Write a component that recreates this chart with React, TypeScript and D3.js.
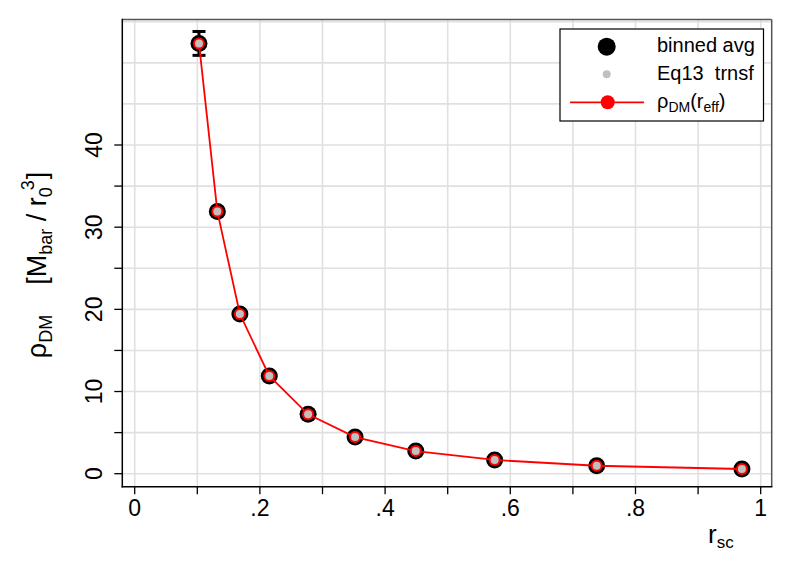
import React from "react";
import * as d3 from "d3";

const rsc = [0.1027, 0.132, 0.168, 0.215, 0.277, 0.352, 0.449, 0.575, 0.738, 0.970];
const rho = [52.36, 31.92, 19.43, 11.89, 7.23, 4.46, 2.76, 1.67, 0.97, 0.57];
const rhoErr = [1.45, 0.4, 0.25, 0.15, 0.1, 0.06, 0.04, 0.03, 0.02, 0.01];
const xTicksMajor = [0, 0.2, 0.4, 0.6, 0.8, 1];
const xTickLabels = ["0", ".2", ".4", ".6", ".8", "1"];
const xTicksMinor = [0.1, 0.3, 0.5, 0.7, 0.9];
const xGrid = [0, 0.1, 0.2, 0.3, 0.4, 0.5, 0.6, 0.7, 0.8, 0.9, 1];
const yTicksMajor = [0, 10, 20, 30, 40];
const yTicksMinor = [5, 15, 25, 35];
const yGrid = [0, 5, 10, 15, 20, 25, 30, 35, 40, 45, 50, 55];
const legendLabels = ["binned avg", "Eq13  trnsf"];

const FONT = "'Liberation Sans', Arial, Helvetica, sans-serif";

export default function App() {
  const W = 793, H = 577;
  const left = 122.3, right = 771.7, top = 19.5, bottom = 486.7;
  const x = d3.scaleLinear().domain([0, 1]).range([134.7, 760.7]);
  const y = d3.scaleLinear().domain([0, 40]).range([473.7, 145]);
  const line = d3.line<number>().x((d, i) => x(rsc[i])).y((d) => y(d));
  const pathD = line(rho) || "";

  return (
    <svg width={W} height={H} style={{ position: "absolute", left: 0, top: 0, background: "#fff" }} fontFamily={FONT}>
      <rect x={0} y={0} width={W} height={H} fill="#fff" />
      {/* grid */}
      {xGrid.map((g) => (
        <line key={"xg" + g} x1={x(g)} x2={x(g)} y1={top} y2={bottom} stroke="#e0e0e0" strokeWidth={1.6} />
      ))}
      {yGrid.map((g) => (
        <line key={"yg" + g} x1={left} x2={right} y1={y(g)} y2={y(g)} stroke="#e0e0e0" strokeWidth={1.6} />
      ))}
      {/* frame */}
      <line x1={left} x2={right} y1={top} y2={top} stroke="#555" strokeWidth={1.5} />
      <line x1={right} x2={right} y1={top} y2={bottom} stroke="#555" strokeWidth={1.5} />
      <line x1={left} x2={left} y1={top - 0.7} y2={bottom + 0.7} stroke="#000" strokeWidth={1.5} />
      <line x1={left - 0.7} x2={right + 0.7} y1={bottom} y2={bottom} stroke="#000" strokeWidth={1.5} />
      {/* x ticks */}
      {[...xTicksMajor, ...xTicksMinor].map((t) => (
        <line key={"xt" + t} x1={x(t)} x2={x(t)} y1={bottom} y2={bottom + 7.5} stroke="#000" strokeWidth={1.3} />
      ))}
      {xTicksMajor.map((t, i) => (
        <text key={"xl" + t} x={x(t)} y={515.5} fontSize={23} textAnchor="middle" fill="#000">{xTickLabels[i]}</text>
      ))}
      {/* y ticks */}
      {[...yTicksMajor, ...yTicksMinor].map((t) => (
        <line key={"yt" + t} x1={left - 8} x2={left} y1={y(t)} y2={y(t)} stroke="#000" strokeWidth={1.3} />
      ))}
      {yTicksMajor.map((t) => (
        <text key={"yl" + t} transform={`translate(102,${y(t)}) rotate(-90)`} fontSize={23} textAnchor="middle" fill="#000">{String(t)}</text>
      ))}
      {/* axis titles */}
      <text x={708} y={543} fontSize={26} fill="#000">
        r<tspan fontSize={17} dy={5}>sc</tspan>
      </text>
      <text transform="translate(46,265) rotate(-90)" fontSize={27} textAnchor="middle" fill="#000">
        ρ<tspan fontSize={18} dy={6}>DM</tspan>
        <tspan dy={-6}>{"\u00a0\u00a0\u00a0\u00a0[M"}</tspan>
        <tspan fontSize={18} dy={6}>bar</tspan>
        <tspan dy={-6}>{"\u00a0/\u00a0r"}</tspan>
        <tspan fontSize={18} dy={6}>0</tspan>
        <tspan fontSize={18} dy={-18} dx={-3}>3</tspan>
        <tspan dy={12} dx={1}>]</tspan>
      </text>
      {/* error bars */}
      {rsc.map((r, i) => (
        <g key={"eb" + i}>
          <line x1={x(r)} x2={x(r)} y1={y(rho[i] - rhoErr[i])} y2={y(rho[i] + rhoErr[i])} stroke="#000" strokeWidth={3} />
          <line x1={x(r) - 6.5} x2={x(r) + 6.5} y1={y(rho[i] - rhoErr[i])} y2={y(rho[i] - rhoErr[i])} stroke="#000" strokeWidth={3} />
          <line x1={x(r) - 6.5} x2={x(r) + 6.5} y1={y(rho[i] + rhoErr[i])} y2={y(rho[i] + rhoErr[i])} stroke="#000" strokeWidth={3} />
        </g>
      ))}
      {/* binned avg */}
      {rsc.map((r, i) => (
        <circle key={"b" + i} cx={x(r)} cy={y(rho[i])} r={8.5} fill="#000" />
      ))}
      {/* line */}
      <path d={pathD} fill="none" stroke="#ff0000" strokeWidth={1.8} />
      {rsc.map((r, i) => (
        <circle key={"rd" + i} cx={x(r)} cy={y(rho[i])} r={6} fill="#ff0000" />
      ))}
      {rsc.map((r, i) => (
        <circle key={"g" + i} cx={x(r)} cy={y(rho[i])} r={4} fill="#c0c0c0" />
      ))}
      {/* legend */}
      <rect x={560} y={29} width={203.5} height={92} fill="#fff" stroke="#000" strokeWidth={1.2} />
      <circle cx={606.7} cy={46.7} r={9} fill="#000" />
      <circle cx={606.7} cy={74.3} r={4} fill="#c0c0c0" />
      <line x1={570} x2={644} y1={102.3} y2={102.3} stroke="#ff0000" strokeWidth={1.8} />
      <circle cx={607.7} cy={102.3} r={7} fill="#ff0000" />
      <text x={657} y={52} fontSize={20} fill="#000">{legendLabels[0]}</text>
      <text x={657} y={80} fontSize={20} fill="#000" style={{ whiteSpace: "pre" }}>{legendLabels[1]}</text>
      <text x={657} y={108} fontSize={20} fill="#000">
        ρ<tspan fontSize={14} dy={4}>DM</tspan>
        <tspan dy={-4}>(r</tspan>
        <tspan fontSize={14} dy={4}>eff</tspan>
        <tspan dy={-4}>)</tspan>
      </text>
    </svg>
  );
}
